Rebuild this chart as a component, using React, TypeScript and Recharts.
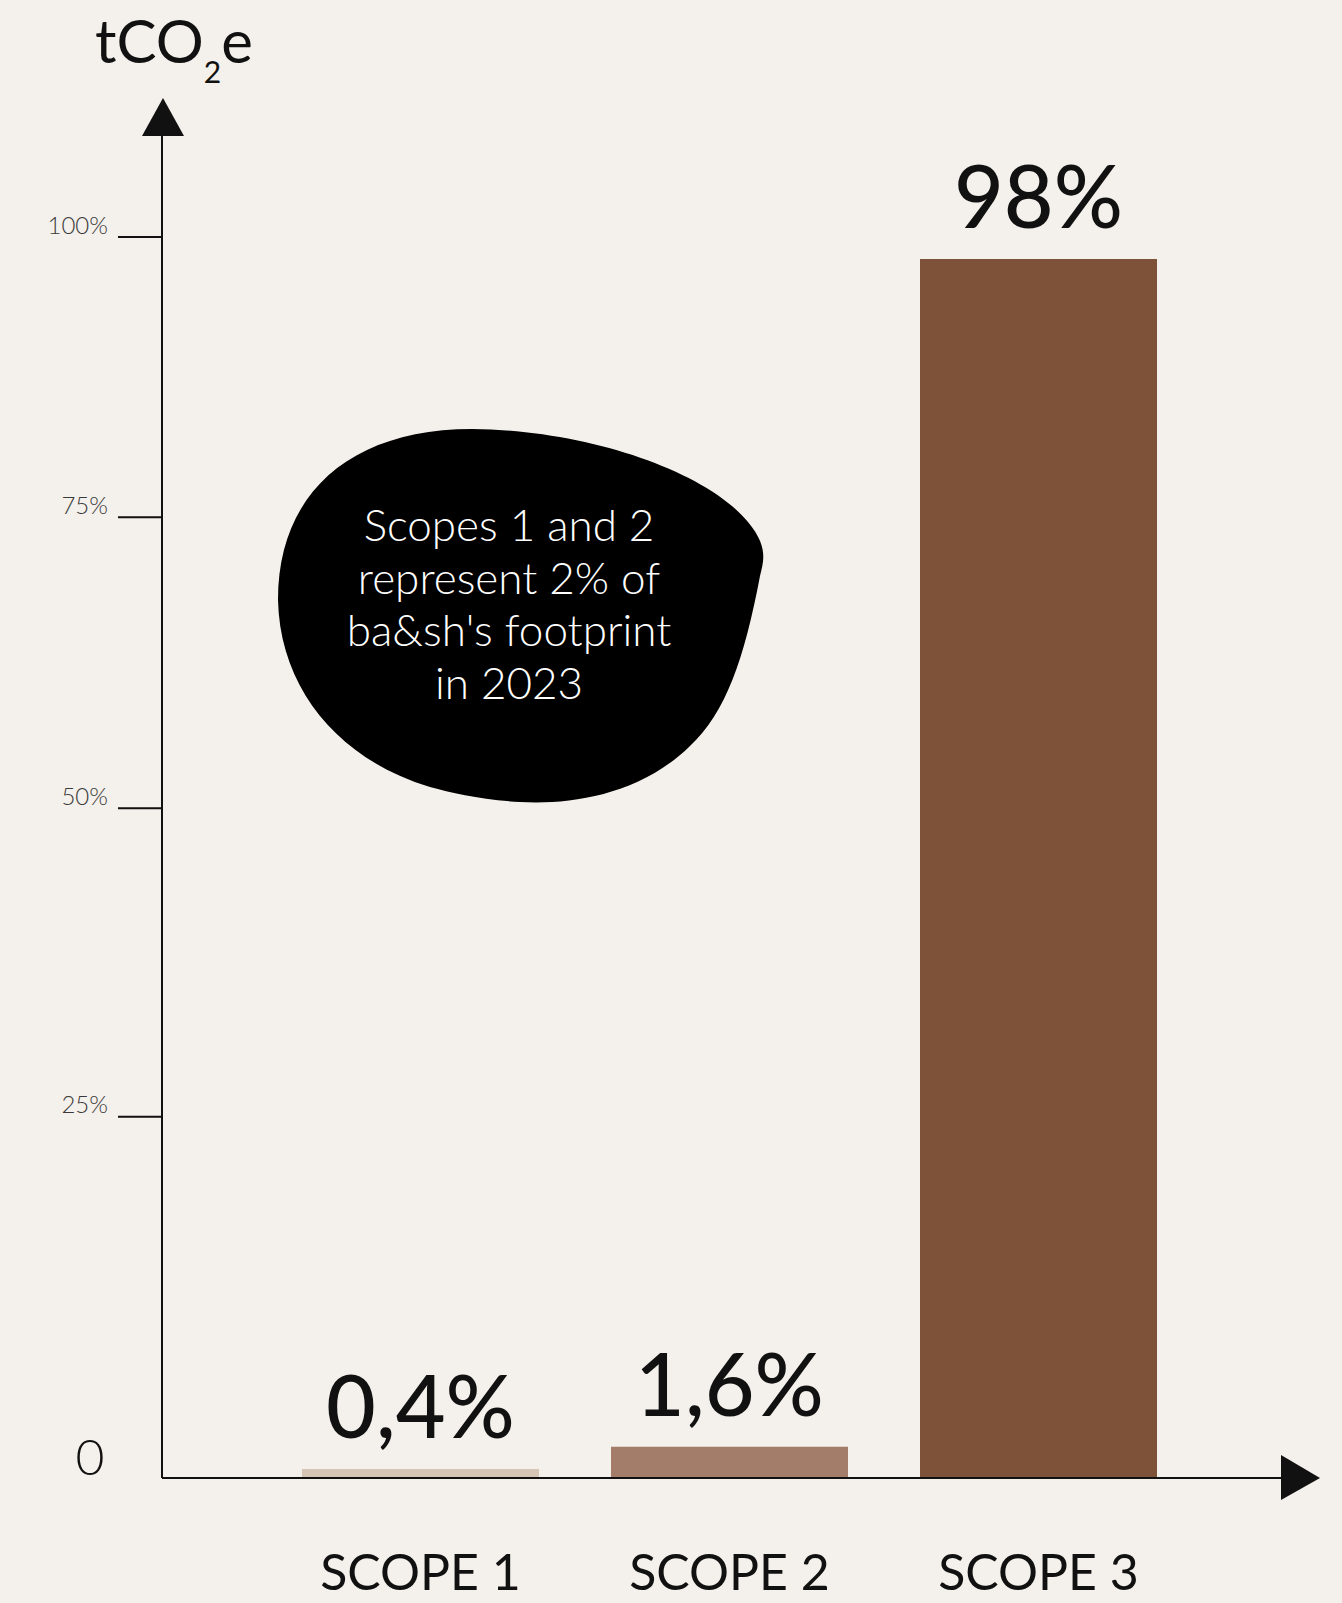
import React from 'react';
import { BarChart, Bar, XAxis, YAxis, Cell, LabelList } from 'recharts';

// ---- data ----
const categories = ['SCOPE 1', 'SCOPE 2', 'SCOPE 3'];
const shares = [0.4, 1.6, 98];
const valueLabels = ['0,4%', '1,6%', '98%'];
const barColors = ['#D6C5B5', '#A47D6A', '#7E5139'];
const yTickValues = [0, 25, 50, 75, 100];
const yTickLabels = ['0', '25%', '50%', '75%', '100%'];
const yAxisTitle = { main: 'tCO', sub: '2', tail: 'e' };
const calloutLines = ['Scopes 1 and 2', 'represent 2% of', "ba&sh's footprint", 'in 2023'];

// ---- layout / style ----
const W = 1342;
const H = 1603;
const BG = '#F4F0EB';
const INK = '#111111';
const FONT = 'Lato, "Open Sans", "Noto Sans", sans-serif';
const EXP = 0.89; // power scale exponent of the value axis
const pw = (v: number) => Math.pow(v, EXP);

const MARGIN = { top: 136, right: 61, bottom: 0, left: 0 };
const Y_AXIS_W = 162;
const X_AXIS_H = 125;
const PLOT_BOTTOM = H - MARGIN.bottom - X_AXIS_H;
const HUNDRED_Y = 237;
const yMaxT = pw(100) * (PLOT_BOTTOM - MARGIN.top) / (PLOT_BOTTOM - HUNDRED_Y);

const data = categories.map((c, i) => ({
  name: c,
  share: shares[i],
  label: valueLabels[i],
}));

const YTick = (props: any) => {
  const { x, y, index } = props;
  const label = yTickLabels[index];
  if (index === 0) {
    return (
      <text x={x - 72} y={y - 22} textAnchor="middle" dominantBaseline="central"
        fontSize={50} fontFamily={FONT} fontWeight={300} fill={INK}>
        {label}
      </text>
    );
  }
  return (
    <g>
      <line x1={x - 44} x2={x} y1={y} y2={y} stroke={INK} strokeWidth={2} />
      <text x={x - 54} y={y - 13} textAnchor="end" dominantBaseline="central"
        fontSize={24} fontFamily={FONT} fontWeight={300} fill="#3a3a3a">
        {label}
      </text>
    </g>
  );
};

export default function App() {
  const axisX = Y_AXIS_W + MARGIN.left;
  const plotRight = W - MARGIN.right;
  return (
    <div style={{ position: 'absolute', left: 0, top: 0, width: W, height: H, background: BG, overflow: 'hidden' }}>
      <BarChart width={W} height={H} data={data} margin={MARGIN} barSize={237}>
        <XAxis
          dataKey="name"
          height={X_AXIS_H}
          padding={{ left: 104, right: 88 }}
          axisLine={{ stroke: INK, strokeWidth: 2 }}
          tickLine={false}
          tickSize={0}
          tickMargin={76}
          interval={0}
          tick={{ fill: INK, fontSize: 50, fontFamily: FONT, fontWeight: 400 }}
        />
        <YAxis
          type="number"
          width={Y_AXIS_W}
          domain={[0, yMaxT]}
          ticks={yTickValues.map(pw)}
          interval={0}
          axisLine={{ stroke: INK, strokeWidth: 2 }}
          tickLine={false}
          tickSize={0}
          tickMargin={0}
          tick={<YTick />}
        />
        <Bar dataKey={(d: any) => pw(d.share)} isAnimationActive={false}>
          {data.map((d, i) => (
            <Cell key={d.name} fill={barColors[i]} />
          ))}
          <LabelList dataKey="label" position="top" offset={31}
            fill={INK} fontSize={86} fontFamily={FONT} fontWeight={500} />
        </Bar>
      </BarChart>
      <svg width={W} height={H} style={{ position: 'absolute', left: 0, top: 0, pointerEvents: 'none' }}>
        {/* axis arrowheads */}
        <polygon points={`${axisX + 1},98 ${axisX - 20},${MARGIN.top} ${axisX + 22},${MARGIN.top}`} fill={INK} />
        <polygon points={`${plotRight},${PLOT_BOTTOM - 23} ${plotRight},${PLOT_BOTTOM + 22} ${plotRight + 39},${PLOT_BOTTOM}`} fill={INK} />
        {/* axis title */}
        <text x={95} y={63} fontSize={60} fontFamily={FONT} fontWeight={400} fill={INK}>
          {yAxisTitle.main}
          <tspan fontSize={30} dy={20}>{yAxisTitle.sub}</tspan>
          <tspan fontSize={60} dy={-20}>{yAxisTitle.tail}</tspan>
        </text>
        {/* callout */}
        <path
          d="M 278,600 C 278,492 352,429 472,429 C 585,430 705,470 748,522 C 768,546 764,560 760,576 C 744,660 726,712 690,746 C 640,795 570,805 520,802 C 482,800 452,793 430,787 C 340,760 280,690 278,600 Z"
          fill="#000"
        />
        <text textAnchor="middle" fontSize={44} fontFamily={FONT} fontWeight={300} fill="#fff">
          {calloutLines.map((l, i) => (
            <tspan key={i} x={509} y={541 + i * 52.7}>{l}</tspan>
          ))}
        </text>
      </svg>
    </div>
  );
}
